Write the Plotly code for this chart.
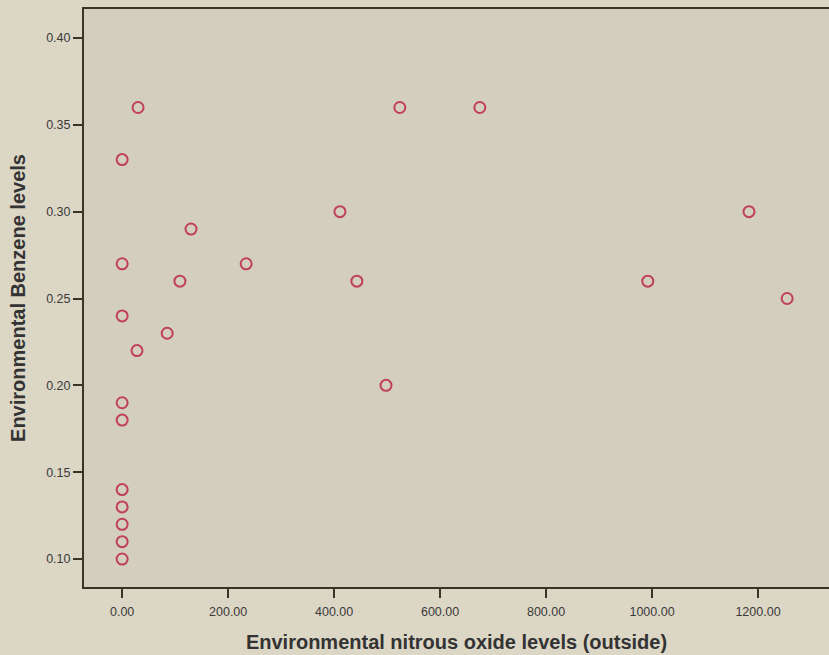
import plotly.graph_objects as go

nitrous_oxide = [0, 0, 0, 0, 0, 0, 0, 0, 0, 0,
                 30, 28, 85, 109, 130, 234, 411, 443, 498, 524, 675, 992, 1183, 1255]
benzene = [0.33, 0.27, 0.24, 0.19, 0.18, 0.14, 0.13, 0.12, 0.11, 0.10,
           0.36, 0.22, 0.23, 0.26, 0.29, 0.27, 0.30, 0.26, 0.20, 0.36, 0.36, 0.26, 0.30, 0.25]

x_ticks = [0, 200, 400, 600, 800, 1000, 1200]
y_ticks = [0.10, 0.15, 0.20, 0.25, 0.30, 0.35, 0.40]

fig = go.Figure(go.Scatter(
    x=nitrous_oxide, y=benzene, mode="markers",
    marker=dict(symbol="circle-open", size=11, color="#c0405a", line=dict(width=2, color="#c0405a")),
    showlegend=False,
))

axis_font = dict(family="Liberation Sans, Arial, sans-serif", size=12.5, color="#3a3a3a")
title_font = dict(family="Liberation Sans, Arial, sans-serif", size=20, color="#333333")

fig.update_layout(
    width=829, height=655,
    margin=dict(l=84, r=0, t=9, b=68),
    paper_bgcolor="#dcd6c5",
    plot_bgcolor="#d3cebf",
    xaxis=dict(
        range=[-72, 1334], tickvals=x_ticks, tickformat=".2f",
        showgrid=False, zeroline=False, showline=True, linecolor="#3a3328", linewidth=2,
        mirror=True, ticks="outside", ticklen=9, tickwidth=2, tickcolor="#3a3328",
        tickfont=axis_font, ticklabelstandoff=3,
        title=dict(text="<b>Environmental nitrous oxide levels (outside)</b>", font=title_font, standoff=17),
    ),
    yaxis=dict(
        range=[0.0839, 0.4167], tickvals=y_ticks, tickformat=".2f",
        showgrid=False, zeroline=False, showline=True, linecolor="#3a3328", linewidth=2,
        ticks="outside", ticklen=9, tickwidth=2, tickcolor="#3a3328",
        tickfont=axis_font,
        title=dict(text="<b>Environmental Benzene levels</b>", font=title_font, standoff=15),
    ),
)

fig.write_html(
    "out.html",
    config={"displayModeBar": False},
    post_script="document.body.style.margin='0';document.body.style.background='#dcd6c5';",
)
